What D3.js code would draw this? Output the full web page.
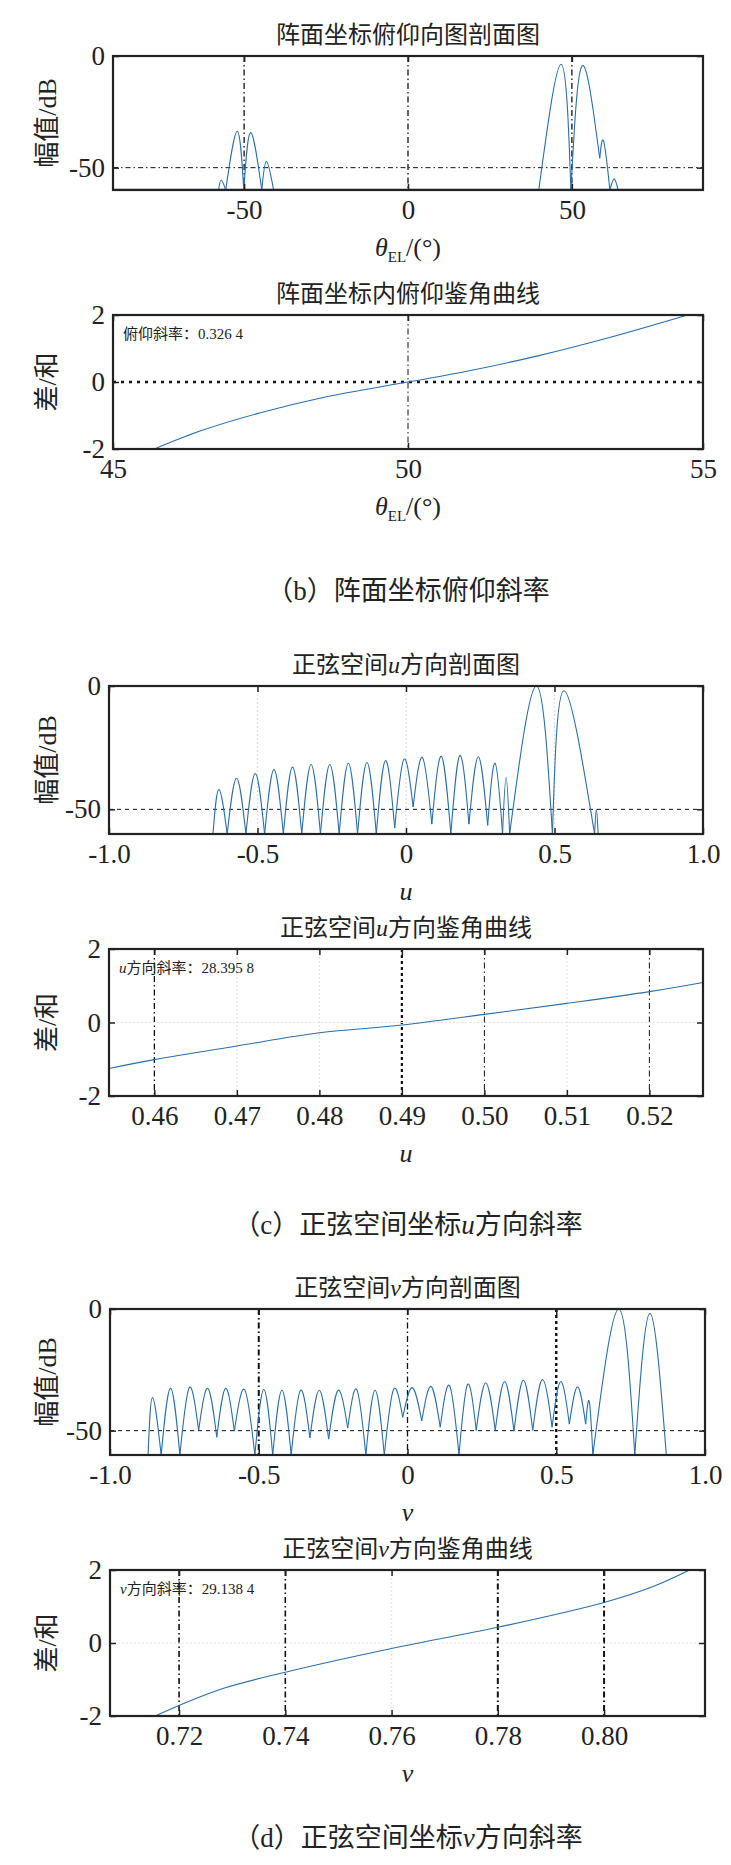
<!DOCTYPE html>
<html>
<head>
<meta charset="utf-8">
<script src="https://cdn.jsdelivr.net/npm/d3@7"></script>
<style>
  body { margin: 0; background: #fff; }
  text { fill: #222; }
</style>
</head>
<body>
<svg width="731" height="1865"></svg>
<script>
// ---- data ----
// (a) elevation pattern cut, theta in degrees
const elNullsL = [-57.8, -55.6, -50.1, -44.6, -41.0];
const elDepthL = [-60, -60, -60, -60, -60];
const elPeaksL = [-55.5, -33.7, -34.3, -47.2];
const elPeakAtL = [-57.0, -52.1, -48.0, -43.2];
const elNullsR = [39.9, 49.7, 58.5, 61.6, 64.1];
const elDepthR = [-60, -60, -45.8, -60, -60];
const elPeaksR = [-3.7, -4.4, -38.2, -55];
const elPeakAtR = [46.7, 53.1, 59.7, 62.9];

// (b) elevation monopulse curve
const elTheta = [45.7, 46.5, 47.5, 48.6, 50, 51, 52.2, 53.4, 54.74];
const elRatio = [-2, -1.45, -0.92, -0.45, 0, 0.32, 0.78, 1.32, 2];

// (c) u cut
const uNulls = [-0.650, -0.602, -0.539, -0.476, -0.413, -0.351, -0.288, -0.225, -0.163, -0.100,
  -0.038, 0.024, 0.087, 0.151, 0.212, 0.275, 0.325, 0.349, 0.493, 0.635, 0.647];
const uDepth = [-60, -60, -60, -60, -60, -60, -60, -60, -60, -60,
  -57.6, -49, -56, -60, -56, -56.5, -60, -60, -60, -60, -60];
const uPeaks = [-41.9, -37.4, -35.5, -33.9, -32.9, -31.8, -31.8, -31.3, -31, -30.2,
  -29.7, -29, -28.5, -28.2, -28.7, -31.3, -37, 0, -1.9, -50];
const uPeakAt = [-0.63, null, null, null, null, null, null, null, null, null,
  null, null, null, null, null, null, null, 0.439, 0.532, null];
const uVal = [0.4545, 0.46, 0.47, 0.48, 0.49, 0.50, 0.51, 0.52, 0.5265];
const uRatio = [-1.25, -1.01, -0.64, -0.28, -0.07, 0.22, 0.52, 0.84, 1.09];

// (d) v cut
const vNulls = [-0.872, -0.828, -0.765, -0.702, -0.641, -0.582, -0.513, -0.453, -0.391, -0.328,
  -0.265, -0.201, -0.140, -0.078, -0.016, 0.048, 0.110, 0.173, 0.231, 0.295,
  0.358, 0.421, 0.486, 0.544, 0.599, 0.623, 0.764, 0.870];
const vDepth = [-60, -60, -60, -49.9, -52.7, -50.2, -60, -60, -60, -53,
  -53.5, -48.9, -60, -60, -44.5, -46, -48.6, -60, -49.9, -49.9,
  -50.2, -49.9, -48.6, -47.3, -47.3, -60, -60, -60];
const vPeaks = [-36.4, -32.6, -32.3, -32.6, -32.6, -33.1, -33.1, -33.4, -33.4, -33.4,
  -33.4, -33.1, -33.4, -33.1, -32.3, -31.8, -31.5, -31, -30.3, -29.8,
  -29.3, -29, -29.8, -32, -38, 0, -1.8];
const vPeakAt = [-0.857, null, null, null, null, null, null, null, null, null,
  null, null, null, null, null, null, null, null, null, null,
  null, null, null, null, null, 0.710, 0.815];
const vVal = [0.7155, 0.72, 0.7284, 0.74, 0.76, 0.78, 0.80, 0.8091, 0.8161];
const vRatio = [-2, -1.71, -1.24, -0.80, -0.15, 0.43, 1.11, 1.54, 2];

const svg = d3.select('svg');
const blue = '#2c6ea8';
const serif = '"Liberation Serif", "DejaVu Serif", serif';
const cjk = '"Liberation Serif", "Noto Sans CJK SC", serif';

// turn null/peak lists into one arch per lobe
function lobes(nulls, depth, peaks, peakAt) {
  return peaks.map((p, i) => {
    const x0 = nulls[i], x1 = nulls[i + 1];
    const xp = peakAt[i] == null ? (x0 + x1) / 2 : peakAt[i];
    return [[x0, depth[i]], [xp, p], [x1, depth[i + 1]]];
  });
}

const hyphen = f => d => f(d).replace('−', '-');

let clipId = 0;
function panel(cfg) {
  const { top, bottom, left, right } = cfg;
  const x = d3.scaleLinear().domain(cfg.xDomain).range([left, right]);
  const y = d3.scaleLinear().domain(cfg.yDomain).range([bottom, top]);
  const g = svg.append('g');
  const id = 'clip' + (clipId++);
  svg.append('clipPath').attr('id', id).append('rect')
    .attr('x', left).attr('y', top).attr('width', right - left).attr('height', bottom - top);

  // guide lines
  (cfg.vGuides || []).forEach(d => {
    g.append('line').attr('x1', x(d.v)).attr('x2', x(d.v)).attr('y1', top).attr('y2', bottom)
      .attr('stroke', d.color || '#111').attr('stroke-width', d.w || 1.3)
      .attr('stroke-dasharray', d.dash || '6,3,1.5,3');
  });
  (cfg.hGuides || []).forEach(d => {
    g.append('line').attr('x1', left).attr('x2', right).attr('y1', y(d.v)).attr('y2', y(d.v))
      .attr('stroke', d.color || '#111').attr('stroke-width', d.w || 1)
      .attr('stroke-dasharray', d.dash || '4,4');
  });

  // data
  const plot = g.append('g').attr('clip-path', `url(#${id})`);
  const line = d3.line().x(d => x(d[0])).y(d => y(d[1]));
  if (cfg.lobes) {
    const arch = d3.line().x(d => x(d[0])).y(d => y(d[1])).curve(d3.curveNatural);
    cfg.lobes.forEach(l => plot.append('path').attr('d', arch(l))
      .attr('fill', 'none').attr('stroke', blue).attr('stroke-width', 1.1));
  }
  if (cfg.floor) {
    plot.append('path').attr('d', line([[cfg.xDomain[0], cfg.yDomain[0]], [cfg.xDomain[1], cfg.yDomain[0]]]))
      .attr('fill', 'none').attr('stroke', blue).attr('stroke-width', 2.5);
  }
  if (cfg.curve) {
    const smooth = d3.line().x(d => x(d[0])).y(d => y(d[1])).curve(d3.curveCatmullRom);
    plot.append('path').attr('d', smooth(cfg.curve))
      .attr('fill', 'none').attr('stroke', blue).attr('stroke-width', 1.1);
  }

  // axes box + ticks
  const xb = d3.axisBottom(x).tickValues(cfg.xTicks).tickSize(-6).tickPadding(10).tickFormat(hyphen(cfg.xFmt));
  const xt = d3.axisTop(x).tickValues(cfg.xTicks).tickSize(-6).tickFormat('');
  const yl = d3.axisLeft(y).tickValues(cfg.yTicks).tickSize(-6).tickPadding(8).tickFormat(hyphen(d3.format('d')));
  const yr = d3.axisRight(y).tickValues(cfg.yTicks).tickSize(-6).tickFormat('');
  [[xb, `translate(0,${bottom})`], [xt, `translate(0,${top})`], [yl, `translate(${left},0)`], [yr, `translate(${right},0)`]]
    .forEach(([ax, t]) => {
      const a = g.append('g').attr('transform', t).call(ax);
      a.select('.domain').remove();
      a.selectAll('line').attr('stroke', '#222').attr('stroke-width', 1.5);
      a.selectAll('text').attr('font-family', serif).attr('font-size', 27).attr('fill', '#222');
    });
  g.append('rect').attr('x', left).attr('y', top).attr('width', right - left).attr('height', bottom - top)
    .attr('fill', 'none').attr('stroke', '#222').attr('stroke-width', 2.2);

  // titles
  const cx = (left + right) / 2;
  g.append('text').attr('x', cx).attr('y', top - 13).attr('text-anchor', 'middle')
    .attr('font-family', cjk).attr('font-size', 24).html(cfg.title);
  g.append('text').attr('x', cx).attr('y', bottom + 66).attr('text-anchor', 'middle')
    .attr('font-family', serif).attr('font-size', 26).html(cfg.xLabel);
  g.append('text').attr('transform', `translate(56,${(top + bottom) / 2}) rotate(-90)`)
    .attr('text-anchor', 'middle').attr('font-family', cjk).attr('font-size', 26).text(cfg.yLabel);
  if (cfg.note) {
    g.append('text').attr('x', left + 10).attr('y', top + 24)
      .attr('font-family', cjk).attr('font-size', 15).html(cfg.note);
  }
}

const pat = (a, b) => d3.zip(a, b);
const thetaLabel = '<tspan font-style="italic">θ</tspan><tspan font-size="15" dy="6">EL</tspan><tspan dy="-6">/(°)</tspan>';

panel({
  top: 56, bottom: 190, left: 113, right: 703, xDomain: [-90, 90], yDomain: [-60, 0],
  xTicks: [-50, 0, 50], yTicks: [-50, 0], xFmt: d3.format('d'),
  title: '阵面坐标俯仰向图剖面图', xLabel: thetaLabel, yLabel: '幅值/dB',
  vGuides: [{ v: -50 }, { v: 0 }, { v: 50 }], hGuides: [{ v: -50, dash: '5,3,1.5,3' }],
  lobes: lobes(elNullsL, elDepthL, elPeaksL, elPeakAtL).concat(lobes(elNullsR, elDepthR, elPeaksR, elPeakAtR)),
  floor: true
});
panel({
  top: 315, bottom: 449, left: 113, right: 703, xDomain: [45, 55], yDomain: [-2, 2],
  xTicks: [45, 50, 55], yTicks: [-2, 0, 2], xFmt: d3.format('d'),
  title: '阵面坐标内俯仰鉴角曲线', xLabel: thetaLabel, yLabel: '差/和',
  vGuides: [{ v: 50, w: 1 }], hGuides: [{ v: 0, dash: '3,5', w: 2.5 }],
  curve: pat(elTheta, elRatio), note: '俯仰斜率：0.326 4'
});
panel({
  top: 686, bottom: 834, left: 109, right: 703, xDomain: [-1, 1], yDomain: [-60, 0],
  xTicks: [-1, -0.5, 0, 0.5, 1], yTicks: [-50, 0], xFmt: d => d === 0 ? '0' : d3.format('.1f')(d),
  title: '正弦空间<tspan font-style="italic">u</tspan>方向剖面图', xLabel: '<tspan font-style="italic">u</tspan>', yLabel: '幅值/dB',
  vGuides: [{ v: -0.5, color: '#ddd', dash: '2,2' }, { v: 0, color: '#ddd', dash: '2,2' }, { v: 0.5, color: '#ddd', dash: '2,2' }],
  hGuides: [{ v: -50 }],
  lobes: lobes(uNulls, uDepth, uPeaks, uPeakAt)
});
panel({
  top: 949, bottom: 1096, left: 109, right: 703, xDomain: [0.4545, 0.5265], yDomain: [-2, 2],
  xTicks: [0.46, 0.47, 0.48, 0.49, 0.50, 0.51, 0.52], yTicks: [-2, 0, 2], xFmt: d3.format('.2f'),
  title: '正弦空间<tspan font-style="italic">u</tspan>方向鉴角曲线', xLabel: '<tspan font-style="italic">u</tspan>', yLabel: '差/和',
  vGuides: [{ v: 0.46 }, { v: 0.47, color: '#e4e4e4', dash: '2,2' }, { v: 0.48, color: '#e4e4e4', dash: '2,2' },
    { v: 0.49, dash: '3,3', w: 2.2 }, { v: 0.50, w: 1 }, { v: 0.51, color: '#e4e4e4', dash: '2,2' }, { v: 0.52, w: 1 }],
  hGuides: [{ v: 0, color: '#e4e4e4', dash: '2,2' }],
  curve: pat(uVal, uRatio), note: '<tspan font-style="italic">u</tspan>方向斜率：28.395 8'
});
panel({
  top: 1309, bottom: 1455, left: 110, right: 705, xDomain: [-1, 1], yDomain: [-60, 0],
  xTicks: [-1, -0.5, 0, 0.5, 1], yTicks: [-50, 0], xFmt: d => d === 0 ? '0' : d3.format('.1f')(d),
  title: '正弦空间<tspan font-style="italic">v</tspan>方向剖面图', xLabel: '<tspan font-style="italic">v</tspan>', yLabel: '幅值/dB',
  vGuides: [{ v: -0.5, w: 2 }, { v: 0 }, { v: 0.5, w: 2.4, dash: '3,3' }],
  hGuides: [{ v: -50 }],
  lobes: lobes(vNulls, vDepth, vPeaks, vPeakAt)
});
panel({
  top: 1570, bottom: 1716, left: 110, right: 705, xDomain: [0.707, 0.819], yDomain: [-2, 2],
  xTicks: [0.72, 0.74, 0.76, 0.78, 0.80], yTicks: [-2, 0, 2], xFmt: d3.format('.2f'),
  title: '正弦空间<tspan font-style="italic">v</tspan>方向鉴角曲线', xLabel: '<tspan font-style="italic">v</tspan>', yLabel: '差/和',
  vGuides: [{ v: 0.72, w: 1.6 }, { v: 0.74, w: 1.6 }, { v: 0.76, color: '#e4e4e4', dash: '2,2' }, { v: 0.78, w: 2 }, { v: 0.80, w: 2 }],
  hGuides: [{ v: 0, color: '#e4e4e4', dash: '2,2' }],
  curve: pat(vVal, vRatio), note: '<tspan font-style="italic">v</tspan>方向斜率：29.138 4'
});

// sub-figure captions
[[591, '（b）阵面坐标俯仰斜率'],
 [1225, '（c）正弦空间坐标<tspan font-style="italic">u</tspan>方向斜率'],
 [1838, '（d）正弦空间坐标<tspan font-style="italic">v</tspan>方向斜率']]
  .forEach(([yy, t]) => svg.append('text').attr('x', 408).attr('y', yy + 9).attr('text-anchor', 'middle')
    .attr('font-family', cjk).attr('font-size', 27).html(t));
</script>
</body>
</html>
